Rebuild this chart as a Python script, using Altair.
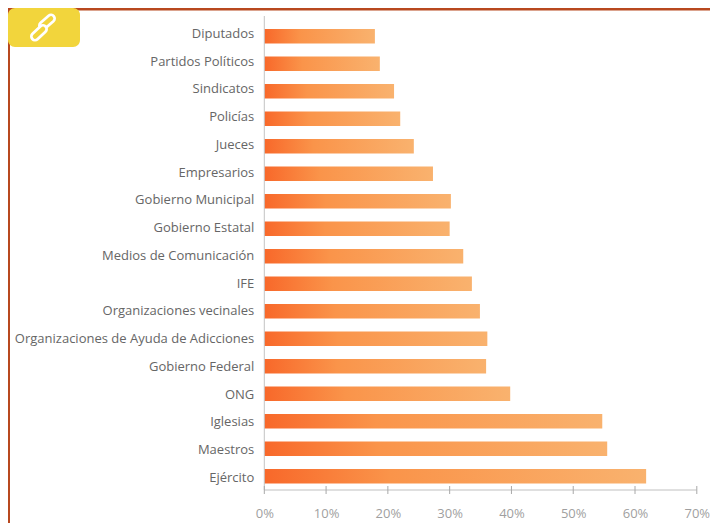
import altair as alt
import pandas as pd

categories = ["Diputados", "Partidos Políticos", "Sindicatos", "Policías", "Jueces", "Empresarios",
              "Gobierno Municipal", "Gobierno Estatal", "Medios de Comunicación", "IFE",
              "Organizaciones vecinales", "Organizaciones de Ayuda de Adicciones", "Gobierno Federal",
              "ONG", "Iglesias", "Maestros", "Ejército"]
values = [17.9, 18.7, 21.0, 22.0, 24.2, 27.3, 30.2, 30.0, 32.2, 33.6, 34.9, 36.1, 35.9, 39.8, 54.7, 55.5, 61.8]
ticks = [0, 10, 20, 30, 40, 50, 60, 70]

W, H = 432.5, 476
OX, OY = 264.3, 14  # plot origin in page pixels
FONT = "Open Sans"

df = pd.DataFrame({"cat": categories, "val": values})
tick_df = pd.DataFrame({"t": ticks})
one = pd.DataFrame({"a": [0]})

x_scale = alt.Scale(domain=[0, 70], nice=False)
y_scale = alt.Scale(domain=categories, range=[8.5, 476], paddingInner=0, paddingOuter=0)
label_scale = alt.Scale(domain=categories, range=[6, 477.75], paddingInner=0, paddingOuter=0)

grad = alt.Gradient(gradient="linear", x1=0, x2=1, y1=0, y2=0,
                    stops=[alt.GradientStop(offset=0, color="#f8682a"),
                           alt.GradientStop(offset=0.33, color="#fa944a"),
                           alt.GradientStop(offset=1, color="#f9b26e")])

bars = alt.Chart(df).mark_bar(size=14.5, color=grad).encode(
    x=alt.X("val:Q", scale=x_scale, axis=alt.Axis(
        values=ticks, labelExpr="datum.value + '%'", title=None, grid=False, ticks=False, domain=False,
        labelFont=FONT, labelFontSize=13, labelColor="#9f9f9f", labelPadding=17, labelFlush=False)),
    y=alt.Y("cat:N", sort=categories, scale=y_scale, axis=None),
)

labels = alt.Chart(df).mark_text(
    align="right", baseline="middle", font=FONT, fontSize=13, color="#666666"
).encode(
    x=alt.value(-10),
    y=alt.Y("cat:N", sort=categories, scale=label_scale, axis=None),
    text="cat:N",
)

y_line = alt.Chart(one).mark_rule(color="#c4c4c4", strokeWidth=1).encode(
    x=alt.value(0), y=alt.value(2), y2=alt.value(H))
x_line = alt.Chart(one).mark_rule(color="#c0c0c0", strokeWidth=1).encode(
    x=alt.value(0), x2=alt.value(W), y=alt.value(H))
tick_marks = alt.Chart(tick_df).mark_rule(color="#a8a8a8", strokeWidth=1).encode(
    x=alt.X("t:Q", scale=x_scale), y=alt.value(H - 4), y2=alt.value(H + 4))


def px(x):
    return alt.value(x - OX)


def py(y):
    return alt.value(y - OY)


def stroke(x1, y1, x2, y2, color, width):
    return alt.Chart(one).mark_rule(color=color, strokeWidth=width, strokeCap="round").encode(
        x=px(x1), y=py(y1), x2=px(x2), y2=py(y2))


BORDER = "#b8481f"
top_rule = alt.Chart(one).mark_rule(color=BORDER, strokeWidth=3).encode(
    x=px(8), x2=px(718), y=py(9))
left_rule = alt.Chart(one).mark_rule(color=BORDER, strokeWidth=3).encode(
    x=px(8.5), y=py(9), y2=py(531))
badge = alt.Chart(one).mark_rect(color="#f2d53c", cornerRadius=7).encode(
    x=px(8), x2=px(80), y=py(8), y2=py(47))

YEL = "#f2d53c"
link = [
    stroke(51, 18.5, 43, 25.5, "white", 10),
    stroke(51, 18.5, 43, 25.5, YEL, 4.5),
    stroke(35, 36.5, 43, 29, "white", 10),
    stroke(35, 36.5, 43, 29, YEL, 4.5),
]

chart = alt.layer(top_rule, left_rule, badge, *link, bars, labels, y_line, x_line, tick_marks).resolve_scale(
    y="independent"
).properties(
    width=W, height=H,
    padding={"left": OX - 8, "top": OY - 8, "right": 718 - 8 - OX - W, "bottom": 531 - 8 - OY - H},
    autosize=alt.AutoSizeParams(type="none"),
    background="white",
).configure_view(stroke=None)

chart.save("out.html", embed_options={"renderer": "svg", "actions": False})
